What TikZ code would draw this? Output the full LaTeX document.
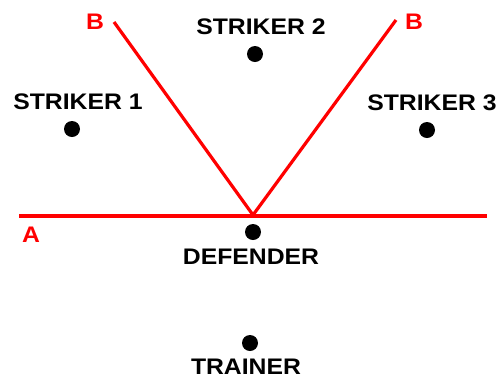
\documentclass[tikz,border=0pt]{standalone}
\usepackage{fontspec}
\setmainfont{Liberation Sans}
\definecolor{linered}{RGB}{255,0,0}
\begin{document}
\begin{tikzpicture}[x=1pt,y=-1pt,
  lbl/.style={inner sep=0pt, font=\bfseries\fontsize{22.5}{22.5}\selectfont, xscale=1.1, transform shape},
  redlbl/.style={lbl, text=linered},
  player/.style={circle, fill=black, inner sep=0pt, minimum size=16pt},
  redline/.style={draw=linered, line width=3.2pt}]
\useasboundingbox[fill=white] (0,0) rectangle (499,376);
% lines
\coordinate (aL) at (19,216);
\coordinate (aR) at (487,216);
\coordinate (apex) at (253,215);
\coordinate (bL) at (114,22);
\coordinate (bR) at (396,20);
\draw[redline] (aL) -- (aR);
\draw[redline, line join=miter] (bL) -- (apex) -- (bR);
% red labels
\node[redlbl] (labA) at (31,235) {A};
\node[redlbl] (labBL) at (95,22) {B};
\node[redlbl] (labBR) at (414,22) {B};
% players
\node[lbl] (t2) at (261,27) {STRIKER 2};
\node[player] (s2) at (255,54) {};
\node[lbl] (t1) at (78,102) {STRIKER 1};
\node[player] (s1) at (72,129) {};
\node[lbl] (t3) at (432,103) {STRIKER 3};
\node[player] (s3) at (427,130) {};
\node[player] (def) at (253,232) {};
\node[lbl] (tdef) at (251,257) {DEFENDER};
\node[player] (tr) at (250,343) {};
\node[lbl] (ttr) at (246,367) {TRAINER};
\end{tikzpicture}
\end{document}
